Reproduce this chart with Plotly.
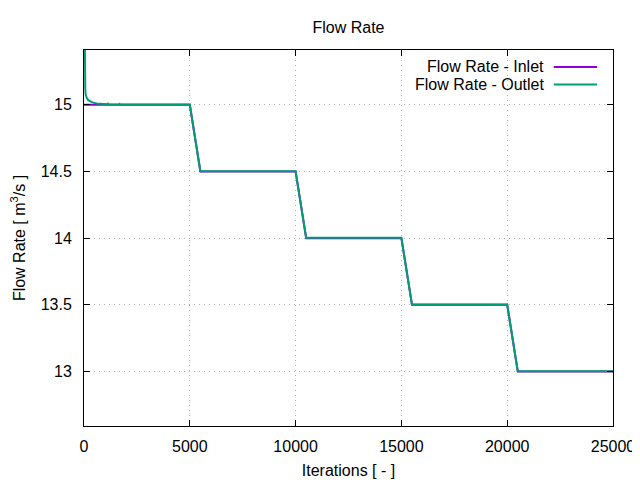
import plotly.graph_objects as go

# ---- data ----
inlet_iter = [0, 5000, 5500, 10000, 10500, 15000, 15500, 20000, 20500, 25000]
inlet_flow = [15.0, 15.0, 14.5, 14.5, 14.0, 14.0, 13.5, 13.5, 13.0, 13.0]

outlet_iter = [0, 20, 40, 60, 80, 120, 200, 300, 400, 600, 800, 1100, 1130, 1160,
               1650, 1680, 1710, 5000,
               5500, 6300, 6330, 6360, 8300, 8320, 8340, 9350, 9380, 9410, 10000,
               10500, 11300, 11330, 11360, 12800, 12830, 12860, 14450, 14480, 14510, 15000,
               15500, 15900, 15930, 15960, 17500, 17530, 17560, 20000,
               20500, 21300, 21330, 21360, 22800, 22830, 22860, 23200, 23230, 23260, 25000]
outlet_flow = [16.2, 15.55, 15.25, 15.12, 15.08, 15.055, 15.035, 15.025, 15.018, 15.01, 15.006, 15.004, 15.009, 15.004,
               15.003, 15.007, 15.003, 15.002,
               14.502, 14.502, 14.506, 14.502, 14.502, 14.505, 14.502, 14.502, 14.506, 14.502, 14.502,
               14.002, 14.002, 14.006, 14.002, 14.002, 14.005, 14.002, 14.002, 14.006, 14.002, 14.002,
               13.502, 13.502, 13.506, 13.502, 13.502, 13.504, 13.502, 13.502,
               13.002, 13.002, 13.006, 13.002, 13.002, 13.006, 13.002, 13.002, 13.005, 13.002, 13.002]

x_ticks = [0, 5000, 10000, 15000, 20000, 25000]
y_ticks = [13, 13.5, 14, 14.5, 15]
y_tick_labels = ["13", "13.5", "14", "14.5", "15"]

series_names = ["Flow Rate - Inlet", "Flow Rate - Outlet"]
series_colors = ["#9400d3", "#009e73"]

FONT = "Liberation Sans, Arial, sans-serif"

fig = go.Figure()
fig.add_trace(go.Scatter(x=inlet_iter, y=inlet_flow, mode="lines", name=series_names[0],
                         line=dict(color=series_colors[0], width=2)))
fig.add_trace(go.Scatter(x=outlet_iter, y=outlet_flow, mode="lines", name=series_names[1],
                         line=dict(color=series_colors[1], width=2)))

axis_common = dict(showline=True, linecolor="black", linewidth=1, mirror="ticks",
                   ticks="inside", ticklen=6, tickcolor="black", tickwidth=1,
                   showgrid=True, gridcolor="#b0b0b0", griddash="1px,4px", gridwidth=1,
                   zeroline=False, automargin=False,
                   tickfont=dict(family=FONT, size=16, color="black"))

fig.update_xaxes(range=[0, 25000], tickvals=x_ticks, ticktext=[str(v) for v in x_ticks],
                 ticklabelstandoff=6,
                 title=dict(text="Iterations [ - ]", font=dict(family=FONT, size=16, color="black"), standoff=10),
                 **axis_common)
fig.update_yaxes(range=[12.591, 15.411], tickvals=y_ticks, ticktext=y_tick_labels,
                 ticklabelstandoff=8,
                 title=dict(text="Flow Rate [ m<sup>3</sup>/s ]", font=dict(family=FONT, size=16, color="black"), standoff=21),
                 **axis_common)

# legend (gnuplot style: right-aligned text, sample line to its right)
legend_rows_y = [0.955, 0.908]
annotations = []
shapes = []
for name, color, yy in zip(series_names, series_colors, legend_rows_y):
    annotations.append(dict(xref="paper", yref="paper", x=0.874, y=yy, text=name, showarrow=False,
                            xanchor="right", yanchor="middle",
                            font=dict(family=FONT, size=16, color="black")))
    shapes.append(dict(type="line", xref="paper", yref="paper", x0=0.888, x1=0.970, y0=yy, y1=yy,
                       line=dict(color=color, width=2)))

# the page body adds an 8px offset, so the figure is 8px smaller than the window
fig.update_layout(
    width=632, height=472,
    margin=dict(l=76, r=27, t=42, b=54, autoexpand=False),
    paper_bgcolor="white", plot_bgcolor="white",
    showlegend=False,
    title=dict(text="Flow Rate", x=0.5, xref="paper", y=0.958, yanchor="middle",
               font=dict(family=FONT, size=16, color="black"), automargin=False),
    annotations=annotations, shapes=shapes,
)

fig.write_html("out.html")
